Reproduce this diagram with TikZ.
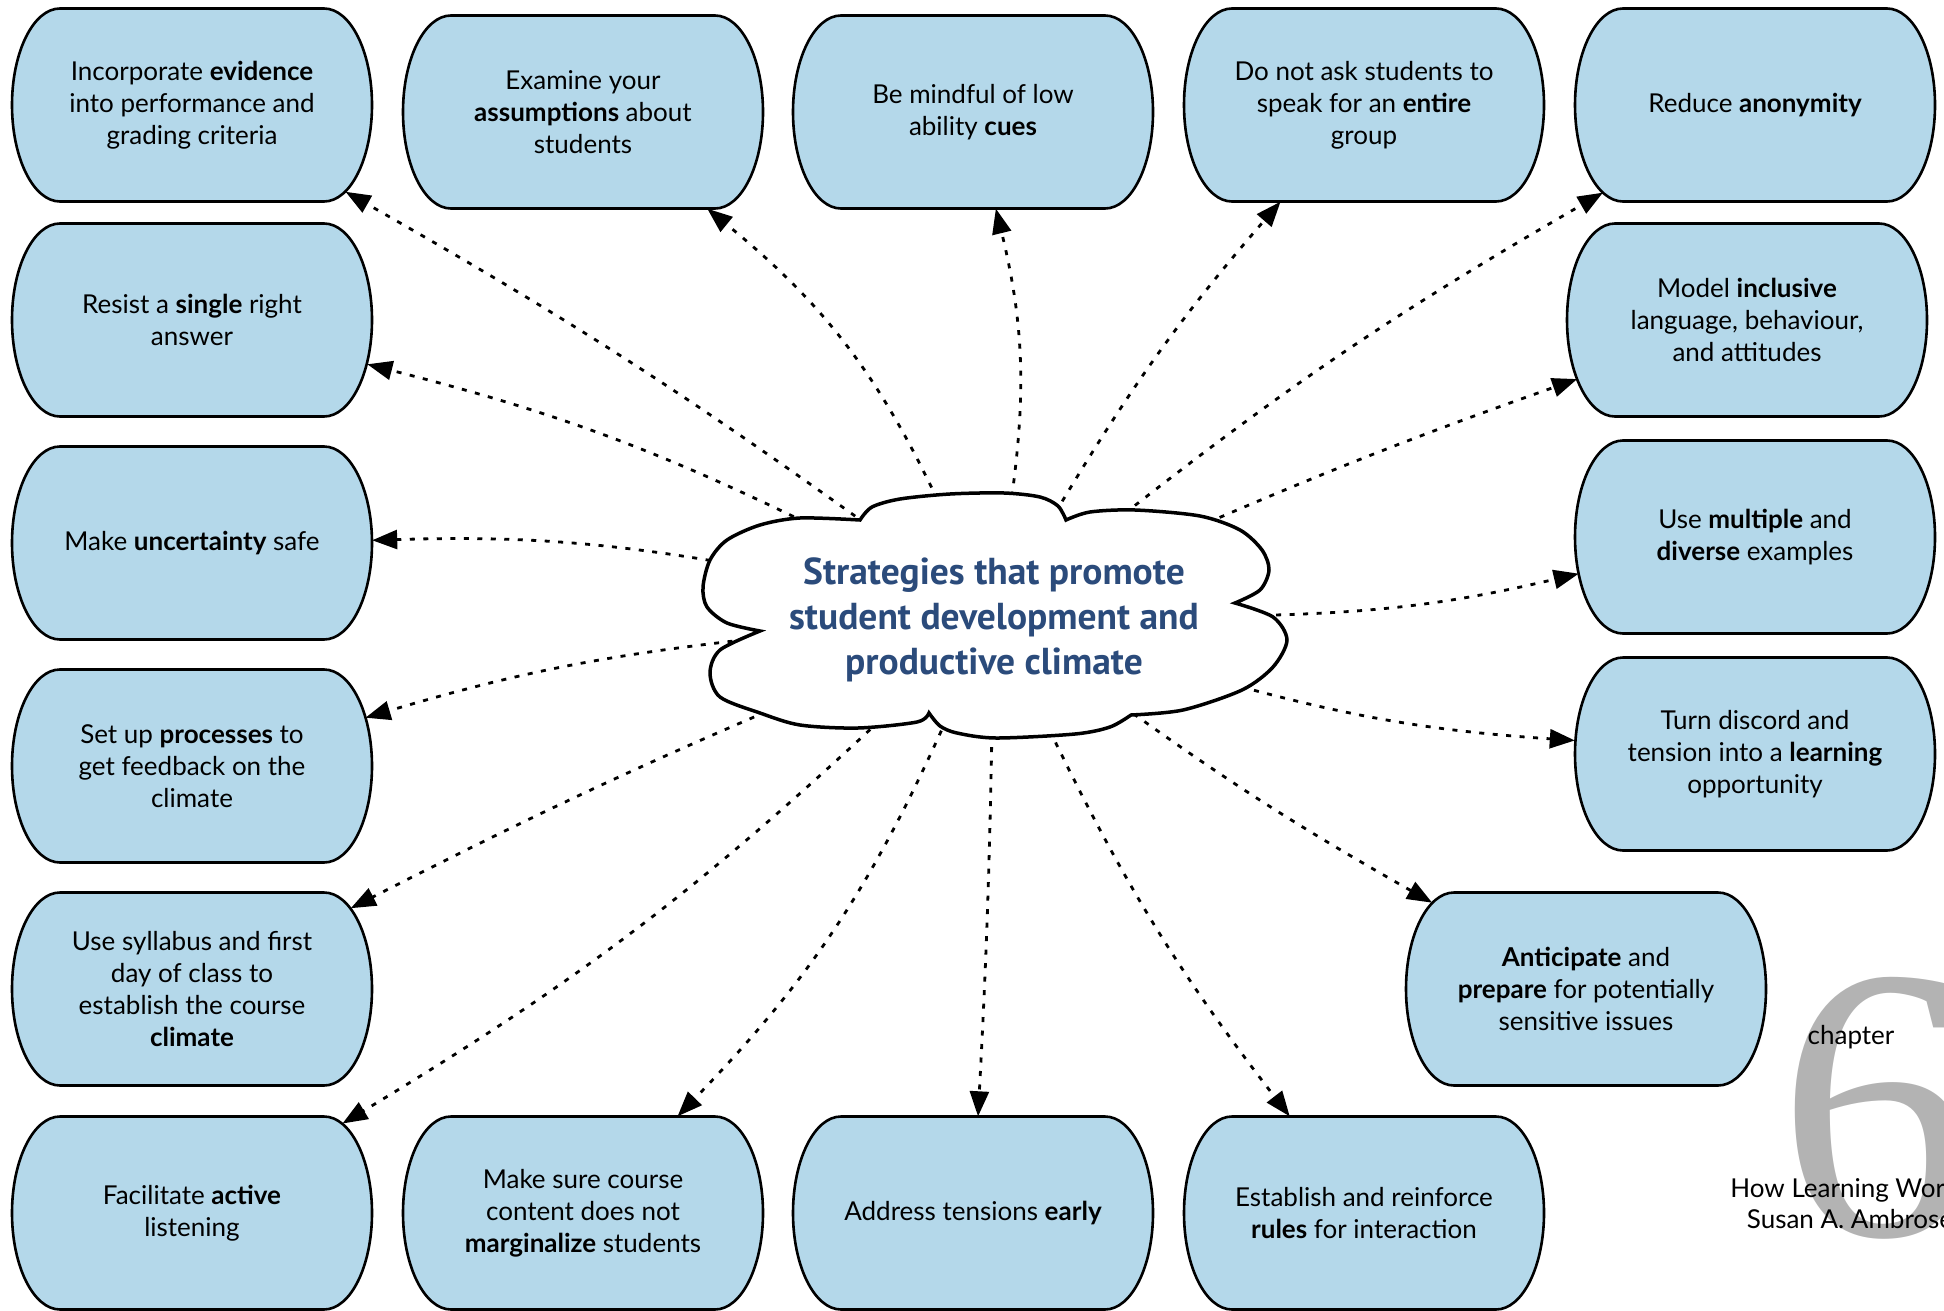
\documentclass[tikz,border=0pt]{standalone}
\usepackage{fontspec}
\setmainfont{Lato}
\newfontfamily\titlefont{PT Sans}
\newfontfamily\numfont{Liberation Serif}
\usetikzlibrary{shapes.geometric,arrows.meta}

\definecolor{boxblue}{HTML}{B4D8EA}
\definecolor{titleblue}{HTML}{2B4B7B}
\definecolor{bignum}{HTML}{B3B3B3}

\begin{document}
\begin{tikzpicture}[x=1pt,y=1pt]
    \tikzstyle{strat}=[rectangle,minimum width=360pt,minimum height=193pt,inner sep=0pt,align=center,font=\fontsize{26}{32}\selectfont]
    \tikzstyle{boxline}=[draw=black,line width=2.6pt,fill=boxblue]
    \tikzstyle{cloudline}=[draw=black,line width=3.5pt,fill=white,line join=miter]
    \tikzstyle{dotarrow}=[line width=2.8pt,dash pattern=on 5pt off 8.5pt,-{Triangle[length=25pt,width=19pt]}]

    \useasboundingbox (0,0) rectangle (1944,-1311);

    % the strategies, each in a box with round ends
    \foreach \name/\x/\y/\txt in {
        ev/192/-105/{Incorporate \textbf{evidence}\\into performance and\\grading criteria},
        single/192/-320/{Resist a \textbf{single} right\\answer},
        uncert/192/-543/{Make \textbf{uncertainty} safe},
        proc/192/-766/{Set up \textbf{processes} to\\get feedback on the\\climate},
        syll/192/-989/{Use syllabus and first\\day of class to\\establish the course\\\textbf{climate}},
        listen/192/-1213/{Facilitate \textbf{active}\\listening},
        assum/583/-112/{Examine your\\\textbf{assumptions} about\\students},
        cues/973/-112/{Be mindful of low\\ability \textbf{cues}},
        entire/1364/-105/{Do not ask students to\\speak for an \textbf{entire}\\group},
        anon/1755/-105/{Reduce \textbf{anonymity}},
        incl/1747/-320/{Model \textbf{inclusive}\\language, behaviour,\\and attitudes},
        multi/1755/-537/{Use \textbf{multiple} and\\\textbf{diverse} examples},
        discord/1755/-754/{Turn discord and\\tension into a \textbf{learning}\\opportunity},
        antic/1586/-989/{\textbf{Anticipate} and\\\textbf{prepare} for potentially\\sensitive issues},
        margin/583/-1213/{Make sure course\\content does not\\\textbf{marginalize} students},
        early/973/-1213/{Address tensions \textbf{early}},
        rules/1364/-1213/{Establish and reinforce\\\textbf{rules} for interaction}}
    {
        \draw[boxline] (\x-132,\y+96.5) -- (\x+132,\y+96.5)
            arc[start angle=90,end angle=-90,x radius=48pt,y radius=96.5pt]
            -- (\x-132,\y-96.5)
            arc[start angle=270,end angle=90,x radius=48pt,y radius=96.5pt] -- cycle;
        \node[strat] (\name) at (\x,\y) {\txt};
    }

    % the central idea: arrows leave an ellipse hidden under the cloud
    \node[ellipse,minimum width=510pt,minimum height=210pt,inner sep=0pt] (cloud) at (994,-615) {};

    \foreach \dest/\bend/\gap in {ev/3/20pt,single/6/5pt,uncert/6/0pt,proc/5/7pt,syll/2/24pt,listen/-6/14pt,
                                  margin/-10/0pt,early/-1/0pt,rules/6/0pt,antic/3/21pt,discord/6/0pt,multi/6/4pt,
                                  incl/-2/11pt,anon/-4/18pt,entire/-5/0pt,cues/11/0pt,assum/13/0pt}
        \draw[dotarrow,shorten >=-\gap] (cloud) to[bend right=\bend] (\dest);

    \draw[cloudline]
        plot[smooth] coordinates {(760,-631) (727,-623) (707,-607) (703,-587) (710,-560) (727,-540) (760,-525) (800,-518) (860,-520)}
        -- plot[smooth] coordinates {(860,-520) (872,-507) (900,-499) (950,-494) (1004,-493) (1040,-497) (1058,-506) (1066,-520)}
        -- plot[smooth] coordinates {(1066,-520) (1090,-512) (1135,-510) (1200,-516) (1240,-530) (1262,-550) (1269,-570) (1260,-590) (1235,-603)}
        -- plot[smooth] coordinates {(1235,-603) (1273,-617) (1287,-640) (1273,-667) (1242,-690) (1183,-710) (1131,-715)}
        -- plot[smooth] coordinates {(1131,-715) (1110,-727) (1075,-734) (996,-738) (957,-733) (940,-726) (929,-713)}
        -- plot[smooth] coordinates {(929,-713) (917,-722) (858,-728) (800,-725) (760,-713) (720,-697) (710,-673) (720,-650) (760,-631)}
        -- cycle;
    \node[align=center,text=titleblue,font=\titlefont\bfseries\fontsize{37.5}{45}\selectfont] (title) at (994,-620)
        {Strategies that promote\\student development and\\productive climate};

    % chapter mark
    \node[anchor=base west,inner sep=0pt,text=bignum,font=\numfont\fontsize{390}{390}\selectfont] (six) at (1778,-1235) {6};
    \node[font=\fontsize{26}{32}\selectfont] (chap) at (1851,-1037) {chapter};
    \node[align=center,font=\fontsize{26}{31}\selectfont] (book) at (1850,-1204) {How Learning Works\\Susan A. Ambrose};
\end{tikzpicture}
\end{document}
